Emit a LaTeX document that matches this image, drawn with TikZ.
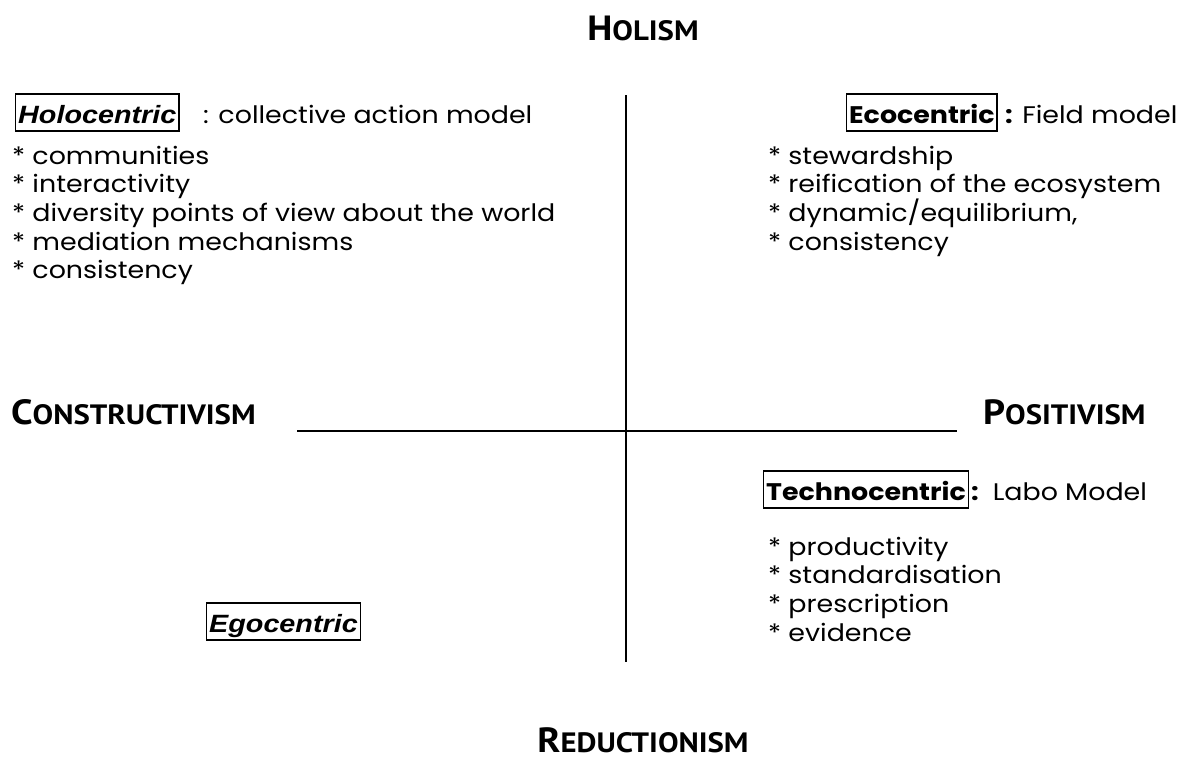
\documentclass[tikz,border=0pt]{standalone}
\usepackage{fontspec}
\setmainfont{Poppins}
\newfontfamily\bodyfont[FakeStretch=1.12]{Poppins}
\newfontfamily\headfont[FakeStretch=1.1]{PT Sans}
\newfontfamily\arialfont[FakeStretch=1.15]{Liberation Sans}
\newcommand\hd[2]{{\fontsize{35}{35}\selectfont #1}{\fontsize{28}{28}\selectfont #2}}
\begin{document}
\begin{tikzpicture}[x=1pt,y=-1pt,
  body/.style={font=\bodyfont\fontsize{24}{24}\selectfont, inner sep=0pt, anchor=base west},
  head/.style={font=\headfont\bfseries, inner sep=0pt, anchor=base},
  tagbox/.style={draw, line width=1.4pt, inner xsep=2.5pt, inner ysep=2pt,
    text height=27pt, text depth=6pt, anchor=base west},
  axis/.style={line width=1.4pt}]
\useasboundingbox (0,0) rectangle (1195,771);
% headings
\node[head] (holism) at (643,40) {\hd{H}{OLISM}};
\node[head] (reduc) at (643,752) {\hd{R}{EDUCTIONISM}};
\node[head, anchor=base west] (constr) at (11,424) {\hd{C}{ONSTRUCTIVISM}};
\node[head, anchor=base west] (posit) at (983,424) {\hd{P}{OSITIVISM}};
% axes
\coordinate (vtop) at (626,95);
\coordinate (vbot) at (626,662);
\coordinate (hl) at (297,431);
\coordinate (hr) at (957,431);
\draw[axis] (vtop) -- (vbot);
\draw[axis] (hl) -- (hr);
% holocentric
\node[tagbox] (holo) at (15,123) {\arialfont\bfseries\itshape\fontsize{25}{25}\selectfont Holocentric};
\node[body] (holot) at (203,123) {: collective action model};
\foreach \t [count=\i] in {communities, interactivity, diversity points of view about the world, mediation mechanisms, consistency}
  \node[body] (l\i) at (12,{164+28.7*(\i-1)}) {* \t};
% ecocentric
\node[tagbox] (eco) at (846,123) {\bodyfont\bfseries\fontsize{24}{24}\selectfont Ecocentric};
\node[body] (ecot) at (eco.base east) [xshift=7pt] {\textbf{:} Field model};
\foreach \t [count=\i] in {stewardship, reification of the ecosystem, {dynamic/equilibrium,}, consistency}
  \node[body] (r\i) at (768,{164+28.7*(\i-1)}) {* \t};
% technocentric
\node[tagbox] (tech) at (763,500) {\bodyfont\bfseries\fontsize{24}{24}\selectfont Technocentric};
\node[body] (techt) at (tech.base east) [xshift=2pt] {\textbf{:}\hspace{14pt}Labo Model};
\foreach \t [count=\i] in {productivity, standardisation, prescription, evidence}
  \node[body] (t\i) at (768,{555+28.7*(\i-1)}) {* \t};
% egocentric
\node[tagbox] (ego) at (206,632) {\arialfont\bfseries\itshape\fontsize{25}{25}\selectfont Egocentric};
\end{tikzpicture}
\end{document}
